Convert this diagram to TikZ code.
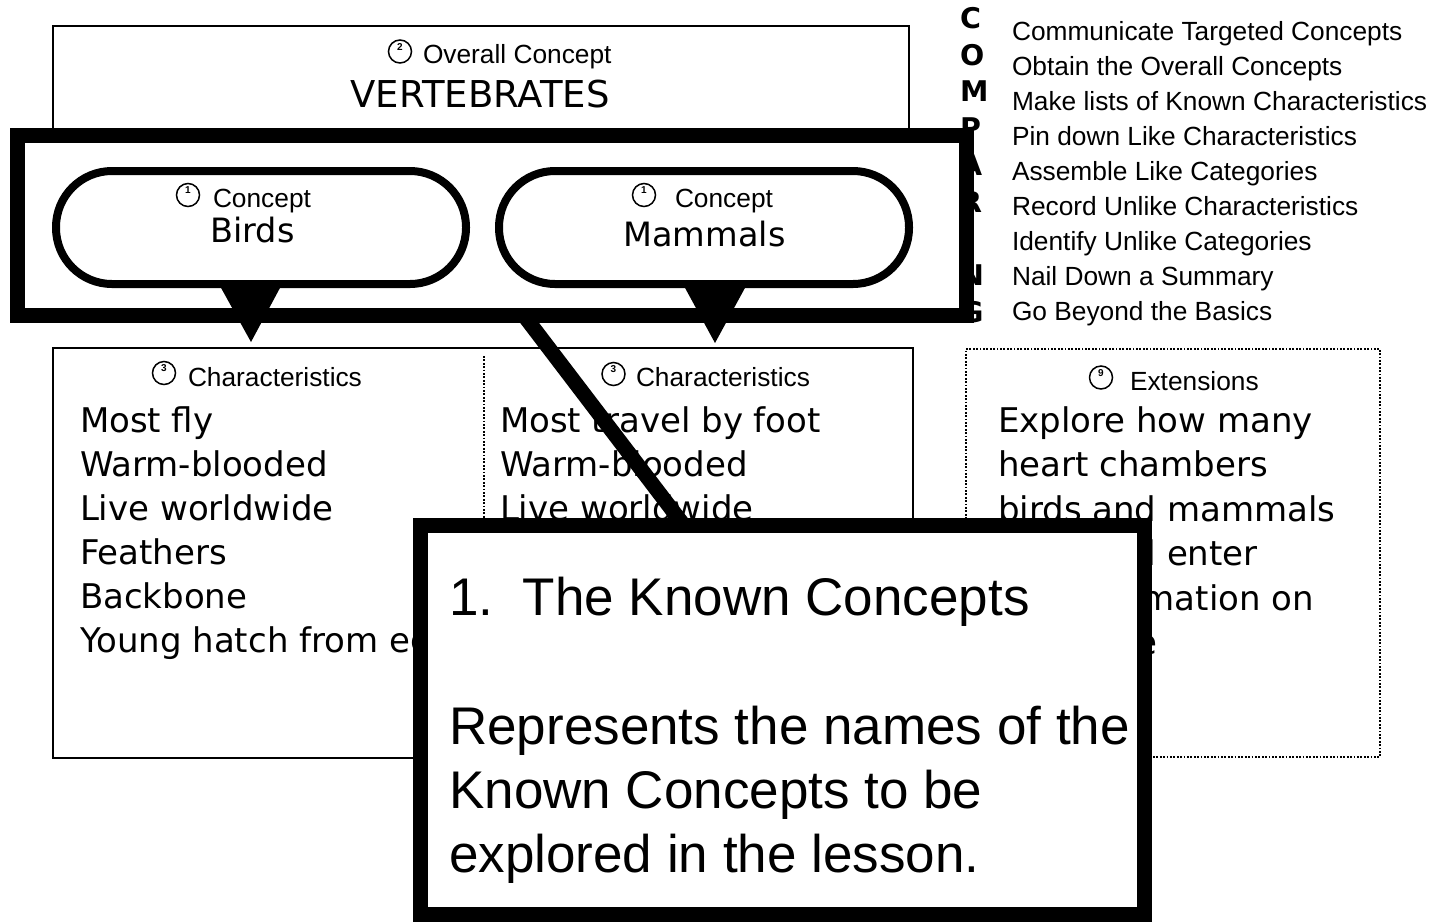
\documentclass[tikz,border=0pt]{standalone}
\usepackage{fontspec}
\setmainfont{Liberation Sans}
\newfontfamily\comicf{DejaVu Sans}
\tikzset{
  txt/.style={inner sep=0pt, outer sep=0pt, anchor=base west},
  arial/.style={font=\fontsize{26.3}{30}\selectfont},
  hand/.style={font=\comicf\fontsize{34}{40}\selectfont},
  thinbox/.style={draw, line width=2pt, inner sep=0pt},
  dotbox/.style={draw, line width=1.8pt, dash pattern=on 1.8pt off 1.6pt},
  heavy/.style={draw, line width=15pt, inner sep=0pt},
  oval/.style={draw, line width=8pt, minimum width=410pt, minimum height=113pt, rounded corners=56pt, inner sep=0pt},
  circ/.style={draw, circle, line width=1.5pt, minimum size=23pt, inner sep=0pt},
  digit/.style={inner sep=0pt, font=\bfseries\fontsize{10}{10}\selectfont},
  letter/.style={inner sep=0pt, anchor=base west, font=\comicf\bfseries\fontsize{28.5}{30}\selectfont},
  call/.style={inner sep=0pt, anchor=base west, font=\fontsize{53}{60}\selectfont},
  handbig/.style={inner sep=0pt, anchor=base, font=\comicf\fontsize{#1}{40}\selectfont},
}
\newcommand\cnum[4]{\node[circ] (#1) at (#2,#3) {}; \node[digit] (#1d) at (#2,#3-4.5) {#4};}
\begin{document}
\begin{tikzpicture}[x=1pt,y=-1pt]
\useasboundingbox (0,0) rectangle (1434,922);
% COMPARING list
\foreach \l/\d [count=\i from 0] in {C/Communicate Targeted Concepts,O/Obtain the Overall Concepts,M/Make lists of Known Characteristics,P/Pin down Like Characteristics,A/Assemble Like Categories,R/Record Unlike Characteristics,I/Identify Unlike Categories,N/Nail Down a Summary,G/Go Beyond the Basics}{
  \node[letter] (L\i) at (960,28.4+36.75*\i) {\l};
  \node[txt,arial] (D\i) at (1012,40+35.1*\i) {\d};
}
% overall concept box
\node[thinbox, minimum width=856pt, minimum height=109pt] (topbox) at (481,80.5) {};
\cnum{c2}{400}{51.5}{2}
\node[txt,arial] (ovl) at (423,63) {Overall Concept};
\node[handbig=37] (vert) at (480,107) {VERTEBRATES};
% ovals
\node[oval] (birdsoval) at (261,227.5) {};
\node[oval] (mammoval) at (704,227.5) {};
\cnum{c1a}{188}{195}{1}
\node[txt,arial] (conA) at (213,207) {Concept};
\node[handbig=33.5] (birds) at (252.5,242) {Birds};
\cnum{c1b}{644}{195}{1}
\node[txt,arial] (conB) at (675,207) {Concept};
\node[handbig=33.5] (mammals) at (704.5,246) {Mammals};
% heavy frame
\node[heavy, minimum width=949pt, minimum height=180pt] (frame) at (492,225.5) {};
% triangles
\fill (220,286) -- (281,286) -- (251,342) -- cycle;
\fill (684,286) -- (746,286) -- (715,343) -- cycle;
% characteristics box
\node[thinbox, minimum width=860pt, minimum height=410pt] (charbox) at (483,553) {};
\draw[dotbox] (484,356) -- (484,757);
\cnum{c3a}{164}{373}{3}
\node[txt,arial] (chA) at (188,386) {Characteristics};
\cnum{c3b}{613.5}{374}{3}
\node[txt,arial] (chB) at (636,386) {Characteristics};
\foreach \t [count=\i from 0] in {Most fly,Warm-blooded,Live worldwide,Feathers,Backbone,Young hatch from eggs}{
  \node[txt,hand] (bl\i) at (80,432+44*\i) {\t};
}
\foreach \t [count=\i from 0] in {Most travel by foot,Warm-blooded,Live worldwide}{
  \node[txt,hand] (ml\i) at (500,432+44*\i) {\t};
}
% extensions box
\node[dotbox, minimum width=414pt, minimum height=408pt, inner sep=0pt] (extbox) at (1173,553) {};
\cnum{c9}{1101}{377.5}{9}
\node[txt,arial] (ext) at (1130,390) {Extensions};
\foreach \t [count=\i from 0] in {Explore how many,heart chambers,birds and mammals,have and enter,the information on,this table}{
  \node[txt,hand] (el\i) at (998,432+44.5*\i) {\t};
}
% pointer and callout
\coordinate (pstart) at (524,315.5);
\coordinate (pend) at (684,525.5);
\draw[line width=15pt] (pstart) -- (pend);
\node[heavy, fill=white, minimum width=724pt, minimum height=389pt] (callout) at (782.5,720) {};
\node[call] (t1) at (449,615) {1.\ \ The Known Concepts};
\node[call] (t2) at (449,744) {Represents the names of the};
\node[call] (t3) at (449,808) {Known Concepts to be};
\node[call] (t4) at (449,872) {explored in the lesson.};
\end{tikzpicture}
\end{document}
